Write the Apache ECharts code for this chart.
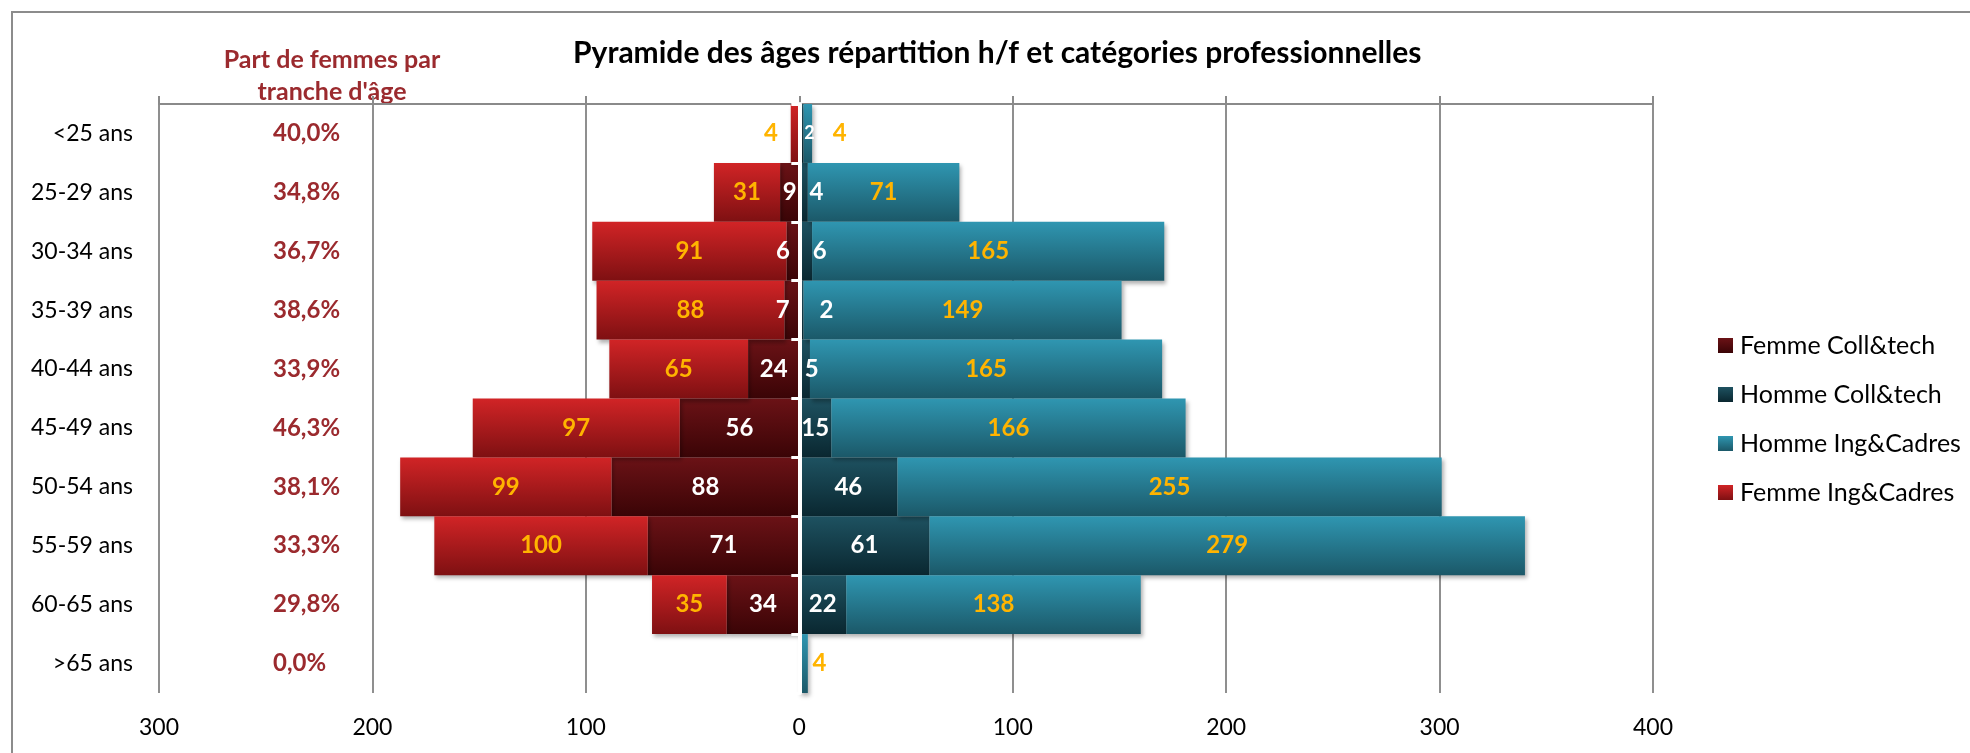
<!DOCTYPE html>
<html>
<head>
<meta charset="utf-8">
<script src="https://cdn.jsdelivr.net/npm/echarts@6/dist/echarts.min.js"></script>
<style>
html,body{margin:0;padding:0;background:#fff;}
#chart{width:1970px;height:753px;}
</style>
</head>
<body>
<div id="chart"></div>
<script>
// ---- DATA ----
const categories = ['<25 ans','25-29 ans','30-34 ans','35-39 ans','40-44 ans','45-49 ans','50-54 ans','55-59 ans','60-65 ans','>65 ans'];
const femmeCollTech = [0, 9, 6, 7, 24, 56, 88, 71, 34, 0];
const femmeIngCadres = [4, 31, 91, 88, 65, 97, 99, 100, 35, 0];
const hommeCollTech = [2, 4, 6, 2, 5, 15, 46, 61, 22, 0];
const hommeIngCadres = [4, 71, 165, 149, 165, 166, 255, 279, 138, 4];
const partFemmes = [40.0, 34.8, 36.7, 38.6, 33.9, 46.3, 38.1, 33.3, 29.8, 0.0];
const axisTicks = [-300, -200, -100, 0, 100, 200, 300, 400];

// ---- label nudges for narrow bars (layout only) ----
const labelNudge = {
  'Femme Coll&tech': {2: -10, 3: -9},
  'Homme Coll&tech': {0: 8, 1: 13, 2: 14, 3: 25, 4: 7},
  'Homme Ing&Cadres': {0: 32, 9: 16},
  'Femme Ing&Cadres': {0: -24}
};
const smallFont = {'Homme Coll&tech': {0: 18}};

const FONT = 'Lato';
const grad = (top, bottom) => new echarts.graphic.LinearGradient(0, 0, 0, 1, [
  {offset: 0, color: top}, {offset: 1, color: bottom}
]);

function makeSeries(name, values, sign, colTop, colBottom, labelColor) {
  const data = values.map((v, i) => {
    const item = {value: sign * v};
    const dx = (labelNudge[name] || {})[i];
    const fs = (smallFont[name] || {})[i];
    if (dx !== undefined || fs !== undefined) {
      item.label = {};
      if (dx !== undefined) item.label.offset = [dx, 0];
      if (fs !== undefined) item.label.fontSize = fs;
    }
    return item;
  });
  return {
    name: name,
    type: 'bar',
    stack: 'pyr',
    xAxisIndex: 0,
    yAxisIndex: 0,
    barCategoryGap: '0%',
    data: data,
    itemStyle: {
      color: grad(colTop, colBottom),
      shadowColor: 'rgba(0,0,0,0.3)',
      shadowBlur: 4,
      shadowOffsetX: 2,
      shadowOffsetY: 3
    },
    label: {
      show: true,
      position: 'inside',
      color: labelColor,
      fontFamily: FONT,
      fontWeight: 'bold',
      fontSize: 24,
      formatter: p => (p.value === 0 ? '' : String(Math.abs(p.value)))
    },
    emphasis: {disabled: true}
  };
}

const chart = echarts.init(document.getElementById('chart'), null, {renderer: 'canvas'});
const gridLeft = 159, gridRight = 317, gridTop = 104, gridBottom = 60;

const option = {
  animation: false,
  backgroundColor: '#ffffff',
  textStyle: {fontFamily: FONT},
  title: {
    text: 'Pyramide des âges répartition h/f et catégories professionnelles',
    left: 573,
    top: 38,
    padding: 0,
    textStyle: {fontFamily: FONT, fontWeight: 'bold', fontSize: 30, color: '#000'}
  },
  graphic: [
    {
      type: 'rect', silent: true, z: -10,
      shape: {x: 12, y: 12, width: 2100, height: 900},
      style: {fill: 'none', stroke: '#8c8c8c', lineWidth: 2}
    },
    {
      type: 'text', silent: true,
      x: 332, y: 60,
      style: {text: 'Part de femmes par', fill: '#9B2A2E', font: 'bold 25px Lato', align: 'center', verticalAlign: 'middle'}
    },
    {
      type: 'text', silent: true,
      x: 332, y: 92,
      style: {text: "tranche d'âge", fill: '#9B2A2E', font: 'bold 25px Lato', align: 'center', verticalAlign: 'middle'}
    }
  ],
  legend: {
    orient: 'vertical',
    left: 1718,
    top: 333,
    padding: 0,
    itemWidth: 15,
    itemHeight: 15,
    itemGap: 24,
    icon: 'rect',
    selectedMode: false,
    textStyle: {fontFamily: FONT, fontSize: 25, color: '#000', lineHeight: 24, padding: [0, 0, 0, 2]},
    data: ['Femme Coll&tech', 'Homme Coll&tech', 'Homme Ing&Cadres', 'Femme Ing&Cadres']
  },
  grid: {left: gridLeft, right: gridRight, top: gridTop, bottom: gridBottom, containLabel: false},
  xAxis: [
    {
      type: 'value', position: 'top',
      min: axisTicks[0], max: axisTicks[axisTicks.length - 1], interval: 100,
      axisLine: {show: true, onZero: false, lineStyle: {color: '#8a8a8a', width: 2}},
      axisTick: {show: true, length: 8, lineStyle: {color: '#8a8a8a', width: 2}},
      axisLabel: {show: false},
      splitLine: {show: true, lineStyle: {color: '#8f8f8f', width: 2}}
    },
    {
      type: 'value', position: 'bottom',
      min: axisTicks[0], max: axisTicks[axisTicks.length - 1], interval: 100,
      axisLine: {show: false, onZero: false},
      axisTick: {show: false},
      splitLine: {show: false},
      axisLabel: {
        show: true, margin: 23, color: '#000', fontFamily: FONT, fontSize: 23,
        formatter: v => String(Math.abs(v))
      }
    }
  ],
  yAxis: [
    {
      type: 'category', inverse: true, data: categories, position: 'left',
      axisLine: {show: true, onZero: true, lineStyle: {color: '#ffffff', width: 4}},
      axisTick: {show: true, length: 8, lineStyle: {color: '#ffffff', width: 3}},
      axisLabel: {show: false},
      splitLine: {show: false},
      z: 10
    },
    {
      type: 'category', inverse: true, data: categories, position: 'left',
      axisLine: {show: false, onZero: false},
      axisTick: {show: false},
      axisLabel: {show: true, margin: 26, color: '#000', fontFamily: FONT, fontSize: 23}
    },
    {
      type: 'category', inverse: true, data: categories, position: 'left',
      axisLine: {show: false, onZero: false},
      axisTick: {show: false},
      axisLabel: {
        show: true, inside: true, margin: 114, color: '#9B2A2E',
        fontFamily: FONT, fontSize: 24, fontWeight: 'bold',
        formatter: (v, i) => partFemmes[i].toFixed(1).replace('.', ',') + '%'
      }
    }
  ],
  series: [
    makeSeries('Femme Coll&tech', femmeCollTech, -1, '#6B1216', '#3A0406', '#ffffff'),
    makeSeries('Homme Coll&tech', hommeCollTech, 1, '#1E5261', '#0A2730', '#ffffff'),
    makeSeries('Homme Ing&Cadres', hommeIngCadres, 1, '#2F96B1', '#1B5868', '#FFB400'),
    makeSeries('Femme Ing&Cadres', femmeIngCadres, -1, '#D12426', '#7E1012', '#FFB400')
  ]
};
chart.setOption(option);
</script>
</body>
</html>
